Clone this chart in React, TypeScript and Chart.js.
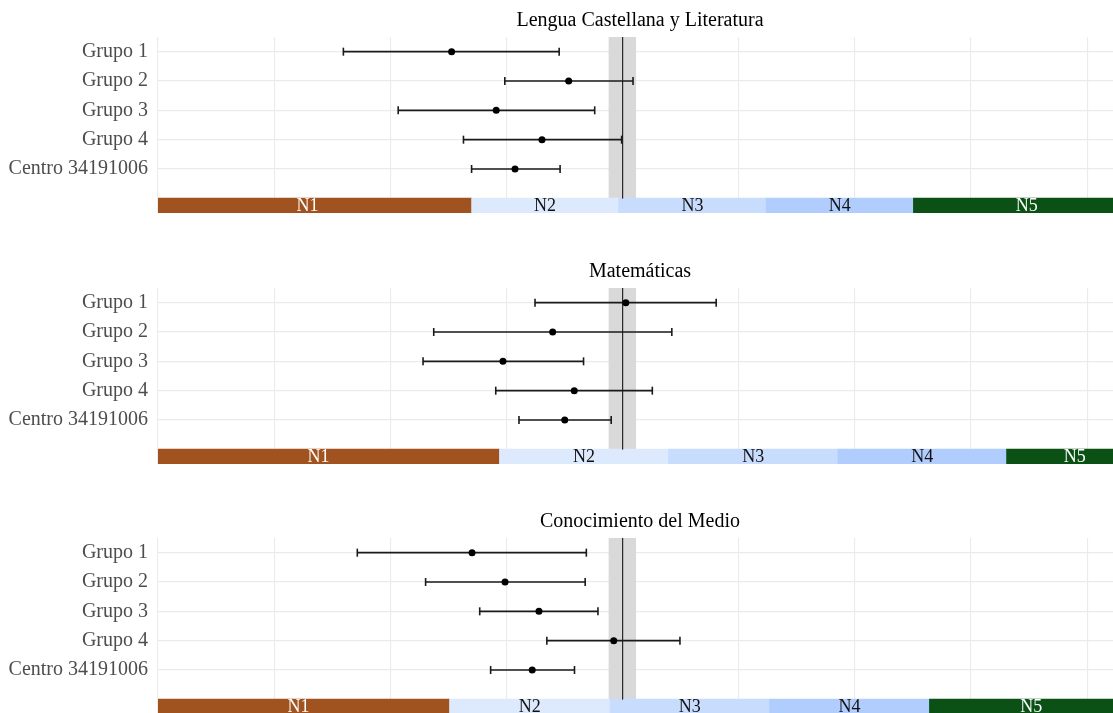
import React, { useEffect, useRef } from 'react';
import { Chart, registerables } from 'chart.js';

Chart.register(...registerables);
Chart.defaults.font.family = "'Liberation Serif', 'DejaVu Serif', serif";

// ---- data ----
const subjects = ['Lengua Castellana y Literatura', 'Matemáticas', 'Conocimiento del Medio'];
const rowLabels = ['Grupo 1', 'Grupo 2', 'Grupo 3', 'Grupo 4', 'Centro 34191006'];
const rowPositions = [1, 2, 3, 4, 5];
const levelLabels = ['N1', 'N2', 'N3', 'N4', 'N5'];
const levelColors = ['#a0531f', '#dde9fd', '#c8dcfe', '#b1cdfd', '#0b5116'];
const levelTextColors = ['#ffffff', '#111111', '#111111', '#111111', '#ffffff'];
const xTicks = [300, 350, 400, 450, 500, 550, 600, 650, 700];
const xMin = 300;
const xMax = 715;
const referenceValue = 500;
const referenceBand = [494, 505.8];

const lenguaMean = [426.4, 476.8, 445.6, 465.3, 453.7];
const lenguaLow = [379.8, 449.3, 403.4, 431.5, 435.0];
const lenguaHigh = [472.7, 504.5, 488.0, 499.6, 473.1];
const lenguaCuts = [293.7, 435.0, 498.3, 561.8, 625.2, 722.7];

const mateMean = [501.4, 469.9, 448.5, 479.2, 475.1];
const mateLow = [462.3, 418.7, 414.1, 445.4, 455.4];
const mateHigh = [540.3, 521.2, 483.2, 512.8, 495.1];
const mateCuts = [291.1, 447.0, 519.8, 592.7, 665.3, 724.0];

const conoMean = [435.2, 449.4, 464.0, 496.2, 461.1];
const conoLow = [385.8, 415.2, 438.5, 467.4, 443.2];
const conoHigh = [484.4, 483.9, 489.4, 524.7, 479.3];
const conoCuts = [295.4, 425.5, 494.6, 563.3, 632.1, 719.7];

// row layout (value units on the y axis)
const yMin = 0.5;
const yMax = 6.5;
const levelRowY = 6.25;
const levelTopY = 6.0;

type PanelData = { title: string; mean: number[]; low: number[]; high: number[]; cuts: number[] };

const panels: PanelData[] = [
  { title: subjects[0], mean: lenguaMean, low: lenguaLow, high: lenguaHigh, cuts: lenguaCuts },
  { title: subjects[1], mean: mateMean, low: mateLow, high: mateHigh, cuts: mateCuts },
  { title: subjects[2], mean: conoMean, low: conoLow, high: conoHigh, cuts: conoCuts },
];

const CANVAS_W = 1122;
const CANVAS_H = 213;
const panelTops = [0, 251, 501];

const decorPlugin = {
  id: 'panelDecor',
  beforeDatasetsDraw(chart: any) {
    const { ctx, scales } = chart;
    const x = scales.x;
    const y = scales.y;
    const x0 = x.getPixelForValue(referenceBand[0]);
    const x1 = x.getPixelForValue(referenceBand[1]);
    const y0 = y.getPixelForValue(yMin);
    const y1 = y.getPixelForValue(levelTopY);
    ctx.save();
    ctx.fillStyle = '#d9d9d9';
    ctx.fillRect(x0, y0, x1 - x0, y1 - y0);
    ctx.restore();
  },
  afterDatasetsDraw(chart: any) {
    const { ctx, chartArea } = chart;
    const idx = chart.data.datasets.findIndex((d: any) => d.type === 'bar');
    if (idx < 0) return;
    const meta = chart.getDatasetMeta(idx);
    ctx.save();
    ctx.beginPath();
    ctx.rect(chartArea.left, chartArea.top, chartArea.right - chartArea.left, chartArea.bottom - chartArea.top);
    ctx.clip();
    ctx.font = "18px 'Liberation Serif', serif";
    ctx.textAlign = 'center';
    ctx.textBaseline = 'middle';
    meta.data.forEach((el: any, i: number) => {
      const p = el.getProps(['x', 'base', 'y'], true);
      ctx.fillStyle = levelTextColors[i];
      ctx.fillText(levelLabels[i], (p.x + p.base) / 2, p.y + 1);
    });
    ctx.restore();
  },
};

function buildConfig(p: PanelData): any {
  const datasets: any[] = [];
  datasets.push({
    type: 'scatter',
    label: 'media',
    data: rowPositions.map((y, i) => ({ x: p.mean[i], y })),
    pointRadius: 3.5,
    pointBackgroundColor: '#000000',
    pointBorderWidth: 0,
    showLine: false,
  });
  rowPositions.forEach((y, i) => {
    datasets.push({
      type: 'scatter',
      label: rowLabels[i],
      data: [
        { x: p.low[i], y },
        { x: p.high[i], y },
      ],
      showLine: true,
      borderColor: '#1a1a1a',
      borderWidth: 1.6,
      pointStyle: 'line',
      pointRotation: 90,
      pointRadius: 4,
      pointBorderColor: '#1a1a1a',
      pointBorderWidth: 1.6,
    });
  });
  datasets.push({
    type: 'scatter',
    label: 'referencia',
    data: [
      { x: referenceValue, y: yMin },
      { x: referenceValue, y: levelTopY },
    ],
    showLine: true,
    borderColor: '#2a2a2a',
    borderWidth: 1,
    pointRadius: 0,
  });
  datasets.push({
    type: 'bar',
    label: 'niveles',
    indexAxis: 'y',
    data: levelLabels.map((_, i) => ({ x: [p.cuts[i], p.cuts[i + 1]], y: levelRowY })),
    backgroundColor: levelColors,
    borderWidth: 0,
    barThickness: 15,
    grouped: false,
  });

  return {
    type: 'scatter',
    data: { datasets },
    plugins: [decorPlugin],
    options: {
      responsive: false,
      animation: false,
      layout: { autoPadding: false, padding: { left: 0, right: 0, top: 0, bottom: 0 } },
      plugins: {
        legend: { display: false },
        tooltip: { enabled: false },
        title: {
          display: true,
          text: p.title,
          fullSize: false,
          color: '#000000',
          font: { size: 20, weight: 'normal' },
          padding: { top: 9, bottom: 4 },
        },
      },
      scales: {
        x: {
          type: 'linear',
          min: xMin,
          max: xMax,
          offset: false,
          beginAtZero: false,
          afterBuildTicks: (s: any) => {
            s.ticks = xTicks.map((v) => ({ value: v }));
          },
          afterFit: (s: any) => {
            s.height = 0;
            s.paddingLeft = 0;
            s.paddingRight = 0;
          },
          ticks: { display: false },
          grid: { color: '#ebebeb', lineWidth: 1.1, drawTicks: false, offset: false },
          border: { display: false },
        },
        y: {
          type: 'linear',
          min: yMin,
          max: yMax,
          reverse: true,
          offset: false,
          beginAtZero: false,
          afterBuildTicks: (s: any) => {
            s.ticks = rowPositions.map((v) => ({ value: v }));
          },
          afterFit: (s: any) => {
            s.width = 158;
            s.paddingTop = 0;
            s.paddingBottom = 0;
          },
          ticks: {
            autoSkip: false,
            padding: 10,
            color: '#4d4d4d',
            font: { size: 20 },
            callback: (_v: any, i: number) => rowLabels[i],
          },
          grid: { color: '#ebebeb', lineWidth: 1.2, drawTicks: false, offset: false },
          border: { display: false },
        },
      },
    },
  };
}

function Panel({ data, top }: { data: PanelData; top: number }) {
  const ref = useRef<HTMLCanvasElement>(null);
  useEffect(() => {
    if (!ref.current) return;
    const chart = new Chart(ref.current, buildConfig(data));
    return () => chart.destroy();
  }, [data]);
  return (
    <div style={{ position: 'absolute', left: 0, top, width: CANVAS_W, height: CANVAS_H }}>
      <canvas ref={ref} width={CANVAS_W} height={CANVAS_H} />
    </div>
  );
}

export default function App() {
  return (
    <div
      style={{
        position: 'fixed',
        left: 0,
        top: 0,
        width: 1113,
        height: 713,
        overflow: 'hidden',
        background: '#ffffff',
      }}
    >
      {panels.map((p, i) => (
        <Panel key={p.title} data={p} top={panelTops[i]} />
      ))}
    </div>
  );
}
